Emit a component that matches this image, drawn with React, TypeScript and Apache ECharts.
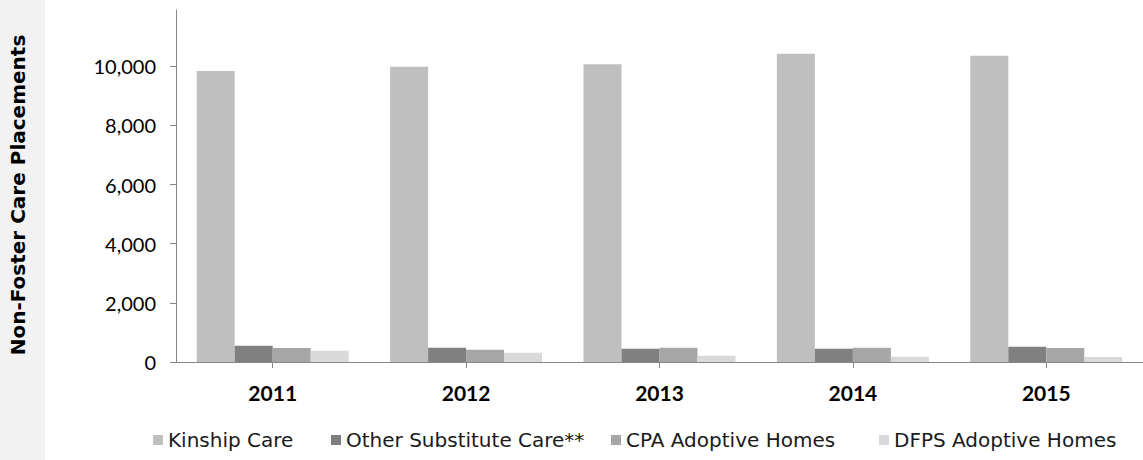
import React, { useEffect, useRef } from "react";
import * as echarts from "echarts";

const years = ["2011", "2012", "2013", "2014", "2015"];
const kinshipCare = [9840, 9980, 10070, 10420, 10350];
const otherSubstituteCare = [550, 485, 450, 450, 517];
const cpaAdoptiveHomes = [473, 416, 483, 483, 473];
const dfpsAdoptiveHomes = [382, 314, 214, 180, 169];
const yTicks = [0, 2000, 4000, 6000, 8000, 10000];

const seriesNames = ["Kinship Care", "Other Substitute Care**", "CPA Adoptive Homes", "DFPS Adoptive Homes"];
const seriesColors = ["#bfbfbf", "#808080", "#a6a6a6", "#d9d9d9"];
const seriesData = [kinshipCare, otherSubstituteCare, cpaAdoptiveHomes, dfpsAdoptiveHomes];
const legendLefts = [153, 331, 611, 879];

export default function App() {
  const ref = useRef<HTMLDivElement>(null);
  useEffect(() => {
    if (!ref.current) return;
    const chart = echarts.init(ref.current, undefined, { renderer: "svg" });
    const axisColor = "#868686";
    chart.setOption({
      animation: false,
      backgroundColor: "#ffffff",
      graphic: [
        { type: "rect", left: 0, top: 0, shape: { x: 0, y: 0, width: 45, height: 460 }, style: { fill: "#f2f2f2" }, z: -10 },
        {
          type: "text",
          x: 18,
          y: 195,
          rotation: Math.PI / 2,
          style: {
            text: "Non-Foster Care Placements",
            font: "bold 20px 'DejaVu Sans'",
            fill: "#000000",
            align: "center",
            verticalAlign: "middle",
          },
        },
      ],
      legend: seriesNames.map((n, i) => ({
        data: [n],
        left: legendLefts[i],
        top: 429,
        icon: "rect",
        itemWidth: 10,
        itemHeight: 10,
        itemGap: 5,
        padding: 0,
        textStyle: { fontFamily: "DejaVu Sans", fontSize: 20, color: "#1a1a1a", lineHeight: 22 },
      })),
      grid: { left: 176, right: -5.5, top: 10, bottom: 98 },
      xAxis: {
        type: "category",
        data: years,
        boundaryGap: true,
        axisLine: { show: true, lineStyle: { color: axisColor, width: 1 } },
        axisTick: { show: true, alignWithLabel: true, length: 6, lineStyle: { color: axisColor } },
        axisLabel: { color: "#000000", fontFamily: "Lato", fontWeight: "bold", fontSize: 21, margin: 20 },
      },
      yAxis: {
        type: "value",
        min: 0,
        max: 11900,
        interval: 2000,
        splitLine: { show: false },
        axisLine: { show: true, lineStyle: { color: axisColor, width: 1 } },
        axisTick: { show: true, length: 6, lineStyle: { color: axisColor }, customValues: yTicks },
        axisLabel: {
          color: "#000000",
          fontFamily: "Lato",
          fontSize: 20,
          margin: 20,
          customValues: yTicks,
          formatter: (v: number) => (v % 2000 === 0 ? v.toLocaleString("en-US") : ""),
        },
      },
      series: seriesNames.map((n, i) => ({
        name: n,
        type: "bar",
        data: seriesData[i],
        barWidth: 38,
        barGap: "0%",
        itemStyle: { color: seriesColors[i] },
      })),
    });
    return () => chart.dispose();
  }, []);
  return <div ref={ref} style={{ position: "absolute", left: 0, top: 0, width: 1143, height: 460 }} />;
}
